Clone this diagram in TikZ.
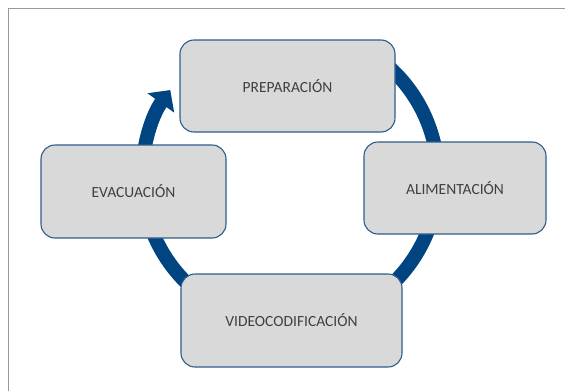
\documentclass[tikz,border=0pt]{standalone}
\usepackage{fontspec}
\setmainfont{Carlito}
\usetikzlibrary{arrows.meta}

\definecolor{ringblue}{RGB}{0,69,129}
\definecolor{boxgray}{RGB}{217,217,217}
\definecolor{boxedge}{RGB}{47,92,140}
\definecolor{txtgray}{RGB}{64,64,64}

\tikzset{
  stage/.style={draw=boxedge, line width=1.1pt, fill=boxgray, rounded corners=14pt,
    text=txtgray, font=\fontsize{15.5}{18}\selectfont, inner sep=0pt},
  ring/.style={draw=ringblue, line width=14pt, -{Triangle[width=32pt,length=16pt]}}
}

\begin{document}
\begin{tikzpicture}[x=1pt, y=-1pt]
  \useasboundingbox (0,0) rectangle (565,391);
  % frame
  \draw[gray!80, line width=1.6pt] (8.5,391) -- (8.5,8.5) -- (565,8.5);
  % cycle ring
  \coordinate (c) at (290,177);
  \draw[ring] (c) ++(-60:148) arc[start angle=-60, end angle=216, radius=148];
  % stages
  \node[stage, minimum width=215pt, minimum height=92pt] (prep) at (287.5,86) {PREPARACIÓN};
  \node[stage, minimum width=182pt, minimum height=92pt] (alim) at (455,188) {ALIMENTACIÓN};
  \node[stage, minimum width=221pt, minimum height=93pt] (video) at (291.5,320.5) {VIDEOCODIFICACIÓN};
  \node[stage, minimum width=185pt, minimum height=93pt] (evac) at (133.5,191.5) {EVACUACIÓN};
\end{tikzpicture}
\end{document}
